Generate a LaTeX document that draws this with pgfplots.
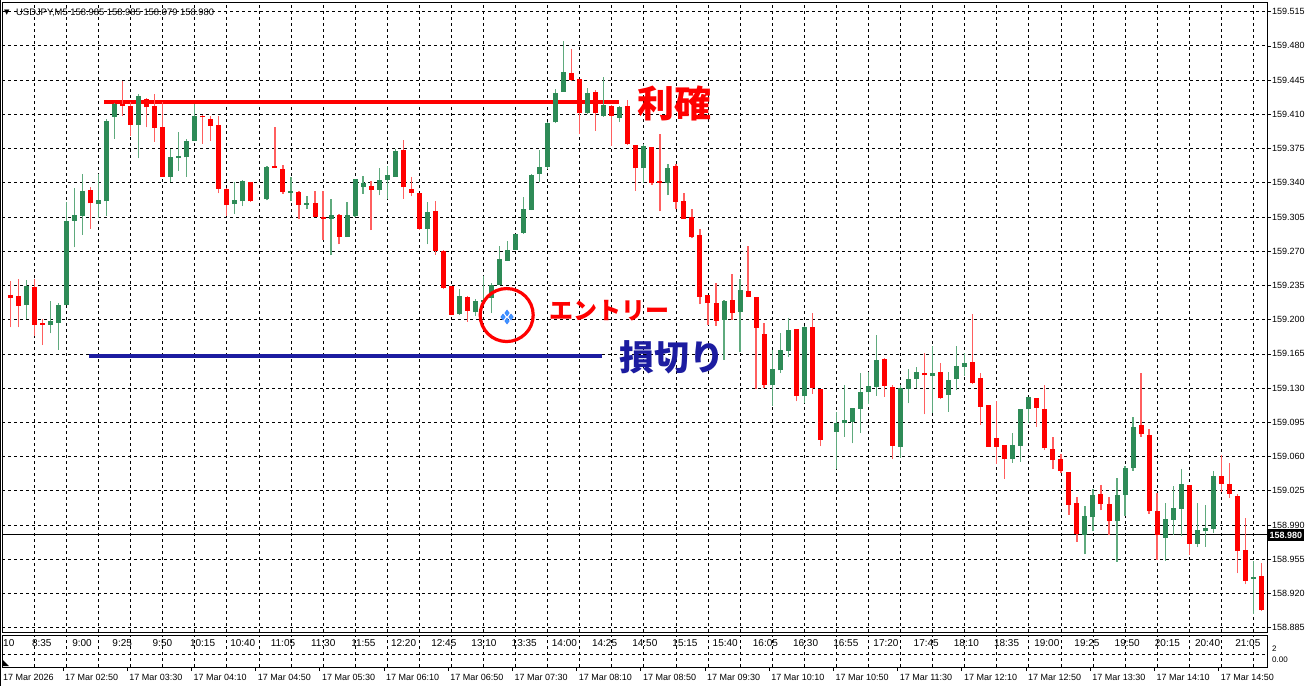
\documentclass[border=0pt]{standalone}
\usepackage{pgfplots}
\pgfplotsset{compat=1.18}
\usepackage{pgfplotstable}
\usepackage{fontspec}
\setmainfont{Liberation Sans}
\newfontfamily\cjk{Noto Sans CJK JP}
\newfontfamily\dejavu{DejaVu Sans}
\definecolor{upB}{RGB}{46,139,87}
\definecolor{upW}{RGB}{95,170,125}
\definecolor{dnB}{RGB}{255,0,0}
\definecolor{dnW}{RGB}{255,95,95}
\definecolor{slblue}{RGB}{28,28,160}
\definecolor{entryblue}{RGB}{60,150,255}

\pgfplotstableread{
x o h l c
2 159.215 159.241 159.201 159.234
5 159.195 159.219 159.186 159.1985
6 159.197 159.2175 159.169 159.215
7 159.215 159.320 159.215 159.301
8 159.301 159.335 159.274 159.307
9 159.306 159.349 159.287 159.332
11 159.318 159.349 159.304 159.322
12 159.321 159.405 159.306 159.403
13 159.407 159.422 159.385 159.421
16 159.399 159.431 159.365 159.429
20 159.346 159.374 159.341 159.366
21 159.3656 159.392 159.352 159.3676
22 159.366 159.385 159.346 159.383
23 159.3825 159.421 159.3825 159.408
28 159.318 159.341 159.308 159.322
29 159.321 159.343 159.316 159.342
32 159.323 159.357 159.322 159.356
35 159.3296 159.346 159.321 159.3313
37 159.3177 159.326 159.313 159.3197
40 159.303 159.3235 159.266 159.307
42 159.2844 159.320 159.284 159.3075
43 159.3058 159.344 159.305 159.3435
44 159.3353 159.3465 159.3286 159.3398
46 159.333 159.355 159.327 159.3425
47 159.3428 159.3574 159.3235 159.3476
48 159.346 159.3744 159.3459 159.3727
52 159.293 159.320 159.277 159.310
56 159.206 159.231 159.205 159.224
58 159.2076 159.221 159.204 159.2195
59 159.218 159.245 159.2178 159.2205
60 159.222 159.2375 159.2066 159.235
61 159.235 159.275 159.235 159.262
62 159.2603 159.280 159.260 159.2715
63 159.2715 159.288 159.271 159.2878
64 159.2885 159.325 159.288 159.3134
65 159.3123 159.349 159.312 159.348
66 159.3487 159.3735 159.341 159.3565
67 159.3565 159.402 159.354 159.4014
68 159.4017 159.436 159.401 159.432
69 159.433 159.485 159.433 159.4528
72 159.411 159.4365 159.410 159.432
74 159.4082 159.448 159.4076 159.4195
76 159.4065 159.418 159.4025 159.417
79 159.3548 159.3793 159.3395 159.378
82 159.340 159.3587 159.3274 159.3553
89 159.1997 159.2201 159.159 159.2191
91 159.2083 159.2413 159.1664 159.2304
95 159.1327 159.1691 159.1119 159.1497
96 159.148 159.1861 159.1453 159.1691
97 159.1684 159.2014 159.1616 159.1895
99 159.1215 159.1936 159.1147 159.1923
103 159.0852 159.1056 159.047 159.094
104 159.094 159.1328 159.0801 159.0971
105 159.0954 159.1094 159.0736 159.1094
106 159.1087 159.1451 159.0839 159.1257
107 159.1257 159.1465 159.1138 159.1318
108 159.1311 159.1843 159.122 159.1584
111 159.0699 159.1328 159.059 159.1305
112 159.1294 159.1492 159.1145 159.139
113 159.1393 159.1519 159.1301 159.1461
115 159.142 159.173 159.1049 159.1451
117 159.123 159.1461 159.1056 159.1383
118 159.139 159.173 159.1281 159.1526
119 159.1516 159.1662 159.1424 159.1553
125 159.0579 159.0845 159.0539 159.0716
126 159.0709 159.1085 159.0545 159.1083
127 159.1083 159.121 159.0947 159.1206
134 158.98 159.0098 158.9601 158.9995
135 158.9978 159.0269 158.9834 159.0211
138 158.9937 159.0382 158.9526 159.0211
139 159.0207 159.0502 158.9995 159.0485
140 159.0478 159.1009 159.0457 159.0906
144 158.9772 159.0125 158.9533 158.9961
145 158.9954 159.0303 158.98 159.0074
146 159.0067 159.0468 158.9783 159.032
148 158.9707 159.0125 158.9673 158.9851
149 158.9834 159.0101 158.968 158.9868
150 158.9861 159.0451 158.9817 159.0406
155 158.9351 158.9533 158.8995 158.9365
}\upT

\pgfplotstableread{
x o h l c
0 159.225 159.240 159.192 159.222
1 159.224 159.242 159.192 159.214
3 159.233 159.242 159.183 159.195
4 159.1965 159.201 159.174 159.195
10 159.333 159.336 159.293 159.319
14 159.420 159.444 159.408 159.4185
15 159.418 159.423 159.388 159.399
17 159.426 159.427 159.3965 159.417
18 159.418 159.431 159.382 159.396
19 159.3975 159.423 159.346 159.346
24 159.4087 159.409 159.380 159.407
25 159.4056 159.408 159.383 159.398
26 159.399 159.408 159.329 159.334
27 159.334 159.335 159.306 159.317
30 159.3404 159.341 159.3205 159.321
33 159.3567 159.3965 159.355 159.355
34 159.354 159.358 159.3285 159.331
36 159.331 159.332 159.303 159.317
38 159.319 159.332 159.3045 159.305
39 159.305 159.332 159.281 159.303
41 159.307 159.308 159.277 159.285
45 159.337 159.3415 159.2915 159.3326
49 159.373 159.384 159.3235 159.3353
50 159.334 159.346 159.326 159.3296
51 159.329 159.330 159.292 159.293
53 159.3106 159.3215 159.2664 159.2705
54 159.2705 159.2715 159.231 159.2324
55 159.234 159.234 159.2045 159.205
57 159.223 159.224 159.198 159.209
70 159.4518 159.4766 159.444 159.445
71 159.4457 159.446 159.3895 159.411
73 159.4331 159.435 159.393 159.411
75 159.4184 159.4195 159.3776 159.408
77 159.4184 159.4246 159.379 159.3797
78 159.3787 159.379 159.3317 159.3548
80 159.3767 159.377 159.3376 159.340
81 159.3417 159.3896 159.311 159.340
83 159.3573 159.3587 159.3127 159.3206
84 159.3212 159.3297 159.3029 159.303
85 159.3046 159.3131 159.2831 159.2841
86 159.2865 159.2923 159.2157 159.2236
87 159.2253 159.2253 159.1946 159.2168
88 159.2174 159.2372 159.1936 159.1987
90 159.2201 159.2467 159.1997 159.2072
92 159.2294 159.2753 159.2236 159.2236
93 159.2236 159.2236 159.129 159.1919
94 159.1855 159.1963 159.130 159.1334
98 159.1902 159.1905 159.1164 159.1222
100 159.1923 159.2072 159.1242 159.130
101 159.129 159.129 159.0704 159.0772
109 159.1594 159.1611 159.1209 159.1322
110 159.1311 159.1328 159.0573 159.0709
114 159.1451 159.1655 159.1032 159.1431
116 159.1461 159.1553 159.1186 159.1196
120 159.1567 159.2061 159.1345 159.1349
121 159.1407 159.1451 159.0923 159.1107
122 159.1124 159.1124 159.0699 159.0699
123 159.0794 159.1168 159.0528 159.0699
124 159.0716 159.0716 159.0375 159.0573
128 159.1196 159.1196 159.0903 159.11
129 159.1091 159.1334 159.0666 159.0683
130 159.068 159.0803 159.0468 159.0564
131 159.057 159.0629 159.0427 159.0451
132 159.0444 159.0444 159.0005 159.0108
133 159.0125 159.0183 158.9731 158.981
136 159.0218 159.031 159.005 159.0115
137 159.0115 159.0187 158.98 158.9937
141 159.092 159.1454 159.0803 159.0827
142 159.0817 159.0886 159.0016 159.004
143 159.0046 159.0228 158.9543 158.98
147 159.0314 159.0314 158.9594 158.9707
151 159.0399 159.0612 159.0235 159.0324
152 159.0324 159.0536 159.0177 159.0221
153 159.0201 159.0218 158.9406 158.9639
154 158.9646 158.9971 158.9293 158.9331
156 158.9379 158.9509 158.9022 158.9029
}\dnT

\begin{document}
\begin{tikzpicture}[x=1pt,y=1pt]
\useasboundingbox (0,0) rectangle (1310,686);
\fill[white] (0,0) rectangle (1310,686);
\draw[black,line width=0.8pt] (0.5,0.5) -- (0.5,685.5);

\begin{axis}[
  at={(2pt,54pt)}, anchor=south west,
  scale only axis, width=1265pt, height=630pt,
  xmin=-1.027, xmax=156.70, ymin=158.8806, ymax=159.5248,
  axis line style={black, line width=0.8pt},
  xtick={3,7,...,155}, xticklabel=\empty, xtick style={draw=none},
  ytick={158.885,158.920,158.955,158.990,159.025,159.060,159.095,159.130,159.165,159.200,159.235,159.270,159.305,159.340,159.375,159.410,159.445,159.480,159.515},
  yticklabels={158.885,158.920,158.955,158.990,159.025,159.060,159.095,159.130,159.165,159.200,159.235,159.270,159.305,159.340,159.375,159.410,159.445,159.480,159.515},
  ytick pos=right, yticklabel pos=right,
  ytick style={black, line width=0.6pt}, tick align=outside, major tick length=4pt,
  yticklabel style={font=\fontsize{9}{10}\selectfont, text=black, inner sep=1pt},
  grid=major, major grid style={black, line width=0.7pt, dash pattern=on 3pt off 3pt},
  candle/.style={draw=none, mark=none, forget plot, error bars/.cd, y dir=plus, y explicit, error mark=none},
]
% current price line
\addplot[black, line width=0.8pt] coordinates {(-2,158.980) (160,158.980)};
% take profit and stop loss lines
\addplot[dnB, line width=4pt] coordinates {(11.73,159.4225) (75.94,159.4225)};
\addplot[slblue, line width=4pt] coordinates {(9.82,159.1628) (73.79,159.1628)};
% wicks
\addplot[candle, error bar style={line width=1.3pt, draw=upW}]
  table[x=x, y=l, y error plus expr=\thisrow{h}-\thisrow{l}] {\upT};
\addplot[candle, error bar style={line width=1.3pt, draw=dnW}]
  table[x=x, y=l, y error plus expr=\thisrow{h}-\thisrow{l}] {\dnT};
% bodies
\addplot[candle, error bar style={line width=5pt, draw=upB}]
  table[x=x, y=o, y error plus expr=\thisrow{c}-\thisrow{o}] {\upT};
\addplot[candle, error bar style={line width=5pt, draw=dnB}]
  table[x=x, y=c, y error plus expr=\thisrow{o}-\thisrow{c}] {\dnT};
% entry marker
\addplot[only marks, mark=diamond*, mark size=3pt, color=entryblue!75!blue, fill=entryblue]
  coordinates {(61.44,159.2027) (62.44,159.2027) (61.94,159.2068) (61.94,159.1986)};
\draw[dnB, line width=3.2pt] (axis cs:61.9,159.2047) circle [radius=26.5pt];
\end{axis}

% indicator sub-window
\begin{axis}[
  at={(2pt,19pt)}, anchor=south west,
  scale only axis, width=1265pt, height=32pt,
  xmin=-1.027, xmax=156.70, ymin=0, ymax=1,
  axis line style={black, line width=0.8pt},
  xtick={3,7,...,155}, xticklabel=\empty,
  ytick={0.41}, yticklabel=\empty, tick style={draw=none},
  grid=major, major grid style={black, line width=0.7pt, dash pattern=on 3pt off 3pt},
]
\addplot[draw=none] coordinates {(0,0.5)};
\end{axis}

% header
\node[anchor=west, inner sep=0pt] at (4,673) {\dejavu\fontsize{7}{8}\selectfont ▼};
\node[anchor=west, inner sep=0pt, font=\fontsize{9.4}{10}\selectfont] at (16,673) {USDJPY,M5\ 158.985 158.985 158.979 158.980};

% current price box
\node[anchor=west, fill=black, text=white, inner sep=1.5pt, minimum height=12pt, font=\bfseries\fontsize{9}{10}\selectfont] at (1268,151) {158.980};

% annotations
\node[anchor=west, inner sep=0pt, text=dnB, font=\cjk\bfseries\fontsize{37}{40}\selectfont] at (637,583) {利確};
\node[anchor=west, inner sep=0pt, text=slblue, font=\cjk\bfseries\fontsize{35}{38}\selectfont] at (619,329) {損切り};
\node[anchor=west, inner sep=0pt, text=dnB, font=\cjk\bfseries\fontsize{24}{26}\selectfont] at (549,375) {エントリー};

% sub-window labels
\node[anchor=west, inner sep=0pt, font=\fontsize{10}{11}\selectfont] at (3,43) {10};
\foreach \xx/\tt in {41.8/8:35,82.0/9:00,122.2/9:25,162.4/9:50,202.6/10:15,242.8/10:40,283.0/11:05,323.2/11:30,363.4/11:55,403.6/12:20,443.8/12:45,484.0/13:10,524.2/13:35,564.4/14:00,604.6/14:25,644.8/14:50,685.0/15:15,725.2/15:40,765.4/16:05,805.6/16:30,845.8/16:55,886.0/17:20,926.2/17:45,966.4/18:10,1006.6/18:35,1046.8/19:00,1087.0/19:25,1127.2/19:50,1167.4/20:15,1207.6/20:40,1247.8/21:05}
  \node[inner sep=0pt, font=\fontsize{10}{11}\selectfont] at (\xx,43) {\tt};
\node[anchor=west, inner sep=0pt, font=\fontsize{8}{9}\selectfont] at (1272,37) {2};
\node[anchor=west, inner sep=0pt, font=\fontsize{8}{9}\selectfont] at (1272,26) {0.00};
\fill[black] (2,20) -- (2,27) -- (9,20) -- cycle;

% time axis
\node[anchor=west, inner sep=0pt, font=\fontsize{9}{10}\selectfont] at (3,9) {17 Mar 2026};
\foreach \k/\tt in {0/02:50,1/03:30,2/04:10,3/04:50,4/05:30,5/06:10,6/06:50,7/07:30,8/08:10,9/08:50,10/09:30,11/10:10,12/10:50,13/11:30,14/12:10,15/12:50,16/13:30,17/14:10,18/14:50}{
  \pgfmathsetmacro{\lx}{65+64.2*\k}
  \draw[black, line width=0.7pt] (\lx-2,15) -- (\lx-2,19);
  \node[anchor=west, inner sep=0pt, font=\fontsize{9}{10}\selectfont] at (\lx,9) {17 Mar \tt};
}
\end{tikzpicture}
\end{document}
